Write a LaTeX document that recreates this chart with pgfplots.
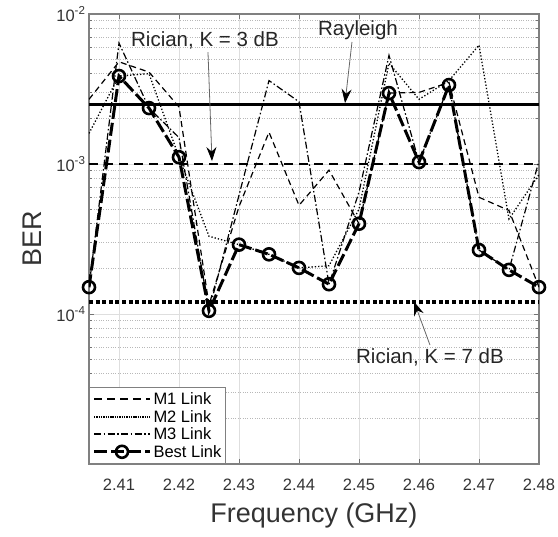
\documentclass[border=0pt]{standalone}
\usepackage{fontspec}
\setmainfont{Liberation Sans}
\usepackage{pgfplots}
\usepackage{pgfplotstable}
\pgfplotsset{compat=1.18}
\usetikzlibrary{arrows.meta}
\newcommand\lf[1]{\makebox[67pt][l]{\fontsize{16.5}{19}\selectfont #1}}

\pgfplotstableread{
f       m1       m2       m3       best
2.405   2.7e-3   1.6e-3   1.51e-4  1.51e-4
2.410   4.8e-3   3.86e-3  6.4e-3   3.86e-3
2.415   4.1e-3   4.0e-3   2.36e-3  2.36e-3
2.420   2.4e-3   1.11e-3  1.5e-3   1.11e-3
2.425   1.15e-4  3.3e-4   1.05e-4  1.05e-4
2.430   5.2e-4   2.9e-4   6.2e-4   2.9e-4
2.435   1.63e-3  2.5e-4   3.6e-3   2.5e-4
2.440   5.3e-4   2.03e-4  2.6e-3   2.03e-4
2.445   9.1e-4   2.1e-4   1.58e-4  1.58e-4
2.450   4.0e-4   5.0e-4   6.5e-4   4.0e-4
2.455   2.97e-3  4.7e-3   5.3e-3   2.97e-3
2.460   3.0e-3   2.7e-3   1.03e-3  1.03e-3
2.465   3.5e-3   3.6e-3   3.36e-3  3.36e-3
2.470   6.0e-4   6.2e-3   2.67e-4  2.67e-4
2.475   4.9e-4   4.3e-4   1.97e-4  1.97e-4
2.480   1.51e-4  8.5e-4   1.05e-3  1.51e-4
}\datatable

\begin{document}
\begin{tikzpicture}
\begin{axis}[
  scale only axis, width=450pt, height=450pt,
  ymode=log,
  xmin=2.405, xmax=2.48, ymin=1e-5, ymax=1e-2,
  xtick={2.41,2.42,2.43,2.44,2.45,2.46,2.47,2.48},
  xticklabels={2.41,2.42,2.43,2.44,2.45,2.46,2.47,2.48},
  ytick={1e-4,1e-3,1e-2},
  yticklabels={10\textsuperscript{-4},10\textsuperscript{-3},10\textsuperscript{-2}},
  minor ytick={2e-5,3e-5,4e-5,5e-5,6e-5,7e-5,8e-5,9e-5,2e-4,3e-4,4e-4,5e-4,6e-4,7e-4,8e-4,9e-4,2e-3,3e-3,4e-3,5e-3,6e-3,7e-3,8e-3,9e-3},
  grid=both,
  major grid style={draw=black!13, line width=0.9pt},
  minor grid style={draw=black!28, dotted, line width=0.9pt},
  axis line style={draw=black!50, line width=1.3pt},
  tick style={draw=black!55, line width=0.9pt},
  major tick length=5pt, minor tick length=3pt,
  tick align=inside,
  ticklabel style={font=\fontsize{16.5}{19}\selectfont, text=black!80},
  xticklabel style={yshift=-11pt},
  xlabel={Frequency (GHz)}, ylabel={BER},
  label style={font=\fontsize{27}{31}\selectfont, text=black!80},
  xlabel shift=6pt, ylabel shift=8pt,
  legend style={at={(0,0)}, anchor=south west, draw=black!50, line width=1pt,
    fill=white, inner sep=3pt, row sep=0pt},
  legend cell align=left,
  legend image code/.code={\draw[#1, mark repeat=2, mark phase=2] plot coordinates {(0pt,0pt) (28pt,0pt) (56pt,0pt)};},
  legend entries={\lf{M1 Link}, \lf{M2 Link}, \lf{M3 Link}, \lf{Best Link}},
]
\addlegendimage{black, line width=2pt, dash pattern=on 8pt off 5pt}
\addlegendimage{black, line width=2.6pt, dash pattern=on 1.4pt off 0.9pt}
\addlegendimage{black, line width=2pt, dash pattern=on 7pt off 2.5pt on 1.5pt off 2.5pt}
\addlegendimage{black, line width=3pt, dash pattern=on 13pt off 4pt, mark=o, mark size=6pt, mark options={solid, fill=white, line width=2.6pt}}

\addplot[forget plot, black, line width=1.2pt, dash pattern=on 6pt off 4pt] table[x=f, y=m1] {\datatable};
\addplot[forget plot, black, line width=1.3pt, dash pattern=on 1.3pt off 2pt] table[x=f, y=m2] {\datatable};
\addplot[forget plot, black, line width=1.2pt, dash pattern=on 7pt off 2.5pt on 1.5pt off 2.5pt] table[x=f, y=m3] {\datatable};

\addplot[forget plot, black, line width=3.5pt] coordinates {(2.405,2.5e-3) (2.48,2.5e-3)};
\addplot[forget plot, black, line width=2.3pt, dash pattern=on 9pt off 6pt] coordinates {(2.405,1.0e-3) (2.48,1.0e-3)};
\addplot[forget plot, black, line width=4pt, dash pattern=on 4pt off 2.6pt] coordinates {(2.405,1.2e-4) (2.48,1.2e-4)};

\addplot[forget plot, black, line width=3pt, dash pattern=on 13pt off 4pt, mark=o, mark size=6pt, mark options={solid, fill=white, line width=2.6pt}] table[x=f, y=best] {\datatable};

\node[font=\fontsize{20.5}{24}\selectfont, text=black!85] at (axis cs:2.42433,6.71e-3) {Rician, K = 3 dB};
\draw[black!60, line width=0.8pt, -{Stealth[length=14pt, width=10pt, color=black]}] (axis cs:2.42483,5.58e-3) -- (axis cs:2.4255,1.047e-3);
\node[font=\fontsize{20.5}{24}\selectfont, text=black!85] at (axis cs:2.44983,7.82e-3) {Rayleigh};
\draw[black!60, line width=0.8pt, -{Stealth[length=14pt, width=10pt, color=black]}] (axis cs:2.44883,6.51e-3) -- (axis cs:2.44767,2.55e-3);
\node[font=\fontsize{20.5}{24}\selectfont, text=black!85] at (axis cs:2.46183,5.17e-5) {Rician, K = 7 dB};
\draw[black!60, line width=0.8pt, -{Stealth[length=14pt, width=10pt, color=black]}] (axis cs:2.46183,6.21e-5) -- (axis cs:2.45917,1.21e-4);

\coordinate (ll) at (rel axis cs:0,0);
\coordinate (ur) at (rel axis cs:1,1);
\end{axis}
\pgfresetboundingbox
\path ([shift={(-89pt,-72pt)}]ll) rectangle ([shift={(19pt,14pt)}]ur);
\end{tikzpicture}
\end{document}
